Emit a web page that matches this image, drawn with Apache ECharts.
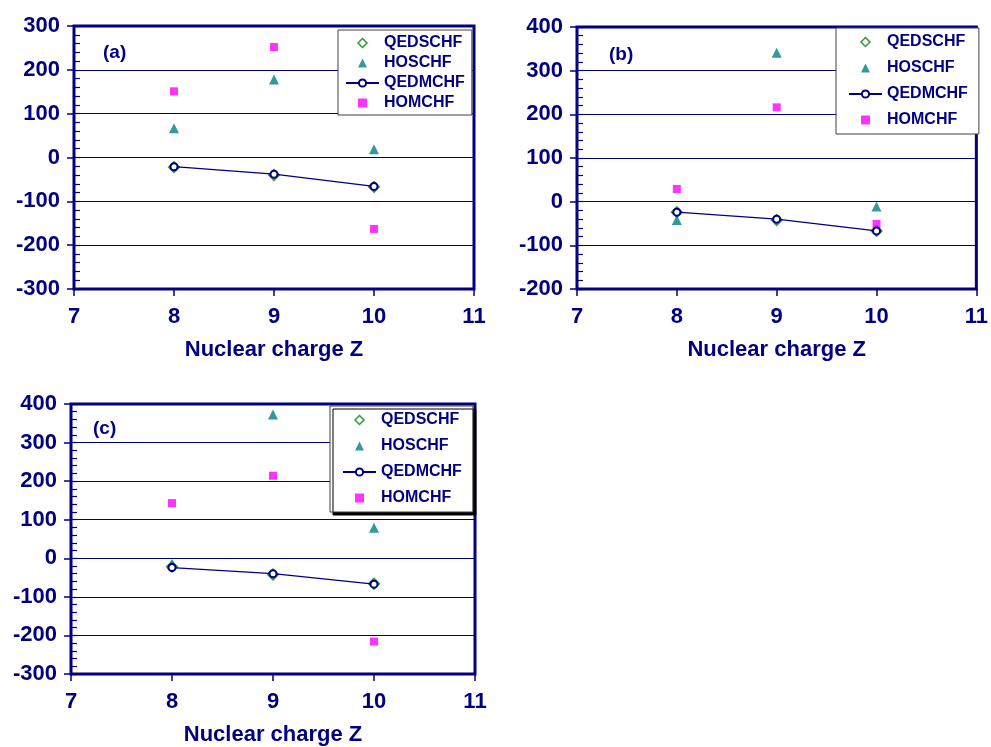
<!DOCTYPE html>
<html>
<head>
<meta charset="utf-8">
<script src="https://cdn.jsdelivr.net/npm/echarts@6/dist/echarts.min.js"></script>
<style>
  html, body { margin: 0; padding: 0; background: #fff; }
  #chart { width: 991px; height: 747px; }
</style>
</head>
<body>
<div id="chart"></div>
<script>
// nuclear charge values on the x axis
const zValues = [8, 9, 10];
const seriesNames = ['QEDSCHF', 'HOSCHF', 'QEDMCHF', 'HOMCHF'];
const panelLabels = ['(a)', '(b)', '(c)'];

// panel (a)
const aQEDSCHF = [-22, -40, -67];
const aHOSCHF = [67, 178, 19];
const aQEDMCHF = [-21, -38, -66];
const aHOMCHF = [151, 252, -163];
// panel (b)
const bQEDSCHF = [-24, -42, -67];
const bHOSCHF = [-42, 341, -11];
const bQEDMCHF = [-24, -40, -67];
const bHOMCHF = [29, 216, -51];
// panel (c)
const cQEDSCHF = [-22, -42, -66];
const cHOSCHF = [-15, 373, 79];
const cQEDMCHF = [-24, -40, -67];
const cHOMCHF = [143, 214, -216];

// y ranges per panel
const yMins = [-300, -200, -300];
const yMaxs = [300, 400, 400];
const xMin = 7, xMax = 11;

const NAVY = '#000080';
const GREEN = '#008000';
const TEAL = '#008080';
const MAGENTA = '#FF00FF';
const FONT = 'Liberation Sans';

const panelData = [
  [aQEDSCHF, aHOSCHF, aQEDMCHF, aHOMCHF],
  [bQEDSCHF, bHOSCHF, bQEDMCHF, bHOMCHF],
  [cQEDSCHF, cHOSCHF, cQEDMCHF, cHOMCHF]
];

// layout of the three plot boxes
const grids = [
  { left: 74, top: 26, width: 400, height: 263 },
  { left: 577, top: 27, width: 404, height: 262 },
  { left: 71, top: 404, width: 404, height: 272 }
];

function pairs(ys) {
  return zValues.map((z, i) => [z, ys[i]]);
}

const chart = echarts.init(document.getElementById('chart'));

const xAxes = [];
const yAxes = [];
const series = [];

grids.forEach((g, p) => {
  xAxes.push({
    gridIndex: p,
    type: 'value',
    min: xMin,
    max: xMax,
    interval: 1,
    name: 'Nuclear charge Z',
    nameLocation: 'middle',
    nameGap: 50,
    nameTextStyle: { color: NAVY, fontFamily: FONT, fontWeight: 'bold', fontSize: 22 },
    axisLine: { show: false, onZero: false },
    axisTick: { show: true, length: 7, lineStyle: { color: NAVY, width: 1.5 } },
    axisLabel: { color: NAVY, fontFamily: FONT, fontWeight: 'bold', fontSize: 22, margin: 17 },
    splitLine: { show: false }
  });
  // main y axis: labels, outer ticks, grid lines
  yAxes.push({
    gridIndex: p,
    type: 'value',
    position: 'left',
    min: yMins[p],
    max: yMaxs[p],
    interval: 100,
    axisLine: { show: false, onZero: false },
    axisTick: { show: true, length: 7, lineStyle: { color: NAVY, width: 1.5 } },
    axisLabel: { color: NAVY, fontFamily: FONT, fontWeight: 'bold', fontSize: 22, margin: 14 },
    splitLine: { show: true, lineStyle: { color: NAVY, width: 1 } }
  });
  // second y axis only for the small inner ticks
  yAxes.push({
    gridIndex: p,
    type: 'value',
    position: 'left',
    min: yMins[p],
    max: yMaxs[p],
    interval: 20,
    axisLine: { show: false, onZero: false },
    axisTick: { show: true, inside: true, length: 6, lineStyle: { color: NAVY, width: 1.2 } },
    axisLabel: { show: false },
    splitLine: { show: false }
  });

  const d = panelData[p];
  series.push({
    name: 'QEDSCHF', type: 'scatter', xAxisIndex: p, yAxisIndex: 2 * p,
    symbol: 'emptyDiamond', symbolSize: 10,
    itemStyle: { color: GREEN, borderWidth: 1.5 },
    data: pairs(d[0])
  });
  series.push({
    name: 'HOSCHF', type: 'scatter', xAxisIndex: p, yAxisIndex: 2 * p,
    symbol: 'triangle', symbolSize: 10,
    itemStyle: { color: TEAL },
    data: pairs(d[1])
  });
  series.push({
    name: 'QEDMCHF', type: 'line', xAxisIndex: p, yAxisIndex: 2 * p,
    symbol: 'emptyCircle', symbolSize: 7,
    lineStyle: { color: NAVY, width: 1.2 },
    itemStyle: { color: NAVY, borderWidth: 1.5 },
    data: pairs(d[2])
  });
  series.push({
    name: 'HOMCHF', type: 'scatter', xAxisIndex: p, yAxisIndex: 2 * p,
    symbol: 'rect', symbolSize: 8,
    itemStyle: { color: MAGENTA },
    data: pairs(d[3])
  });
});

// legend entries with path icons so they keep their shape
const legendItems = [
  { name: 'QEDSCHF', icon: 'path://M0,-1L1,0L0,1L-1,0Z',
    itemStyle: { color: '#fff', borderColor: GREEN, borderWidth: 1.5 } },
  { name: 'HOSCHF', icon: 'path://M0,-1L1,1L-1,1Z' },
  { name: 'QEDMCHF' },
  { name: 'HOMCHF', icon: 'path://M0,0L1,0L1,1L0,1Z' }
];

const legendText = { color: NAVY, fontFamily: FONT, fontWeight: 'bold', fontSize: 16 };

const option = {
  animation: false,
  backgroundColor: '#fff',
  title: [
    { text: panelLabels[0], left: 103, top: 43 },
    { text: panelLabels[1], left: 609, top: 45 },
    { text: panelLabels[2], left: 93, top: 419 }
  ].map(t => Object.assign(t, {
    padding: 0,
    textStyle: { color: NAVY, fontFamily: FONT, fontWeight: 'bold', fontSize: 19 }
  })),
  grid: grids.map(g => Object.assign({}, g, {
    show: true, borderColor: NAVY, borderWidth: 3, backgroundColor: 'transparent'
  })),
  legend: [
    { left: 338, top: 30, padding: [5, 7, 4, 7], itemGap: 4 },
    { left: 836, top: 28, padding: [6, 11, 6, 12], itemGap: 10 },
    { left: 330, top: 406, padding: [6, 11, 6, 12], itemGap: 10,
      shadowColor: '#000', shadowOffsetX: 3, shadowOffsetY: 3, shadowBlur: 0.01 }
  ].map(l => Object.assign({
    data: legendItems,
    orient: 'vertical',
    itemWidth: 33,
    itemHeight: 9,
    symbolKeepAspect: true,
    backgroundColor: '#fff',
    borderColor: '#404040',
    borderWidth: 1,
    borderRadius: 0,
    selectedMode: false,
    textStyle: legendText
  }, l)),
  xAxis: xAxes,
  yAxis: yAxes,
  series: series
};

chart.setOption(option);
</script>
</body>
</html>
